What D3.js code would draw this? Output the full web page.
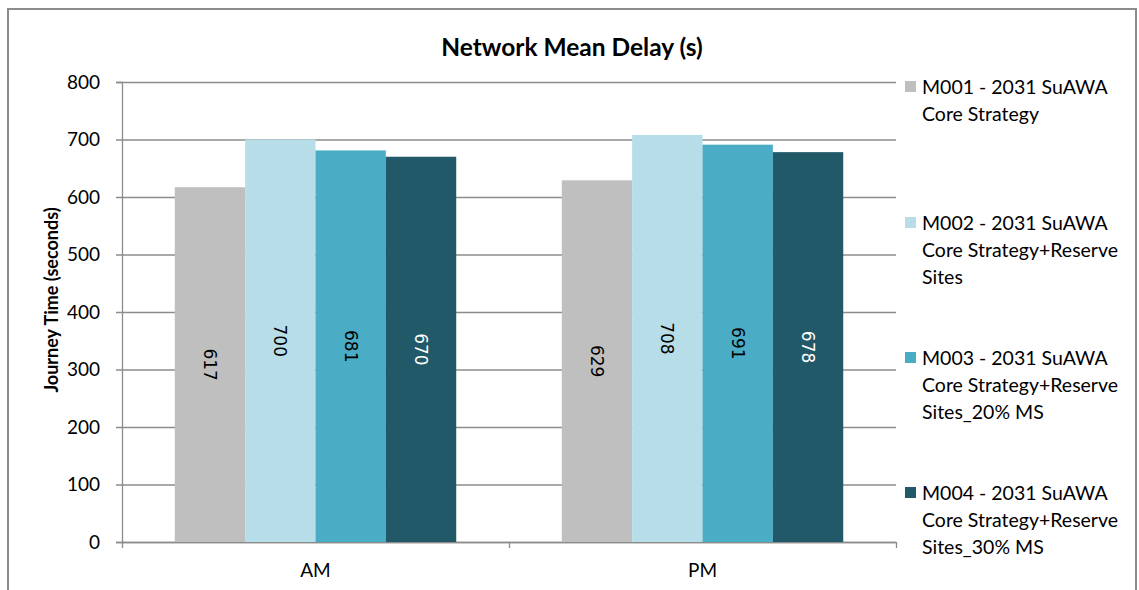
<!DOCTYPE html>
<html>
<head>
<meta charset="utf-8">
<script src="https://cdn.jsdelivr.net/npm/d3@7"></script>
<style>
  body { margin: 0; background: #fff; }
  text { font-family: Lato, "Open Sans", sans-serif; }
</style>
</head>
<body>
<div id="chart"></div>
<script>
/* data */
var periods = ["AM", "PM"];
var seriesNames = [
  ["M001 - 2031 SuAWA", "Core Strategy"],
  ["M002 - 2031 SuAWA", "Core Strategy+Reserve", "Sites"],
  ["M003 - 2031 SuAWA", "Core Strategy+Reserve", "Sites_20% MS"],
  ["M004 - 2031 SuAWA", "Core Strategy+Reserve", "Sites_30% MS"]
];
var m001 = [617, 629];
var m002 = [700, 708];
var m003 = [681, 691];
var m004 = [670, 678];
var yTicks = [0, 100, 200, 300, 400, 500, 600, 700, 800];

var colors = ["#bfbfbf", "#b7dee8", "#4bacc6", "#215968"];
var labelColors = ["#000", "#000", "#000", "#fff"];
var allSeries = [m001, m002, m003, m004];

var W = 1139, H = 590;
var margin = {top: 82, right: 243, bottom: 48, left: 122},
    width = W - margin.left - margin.right,
    height = H - margin.top - margin.bottom;

var svg = d3.select("#chart").append("svg")
    .attr("width", W)
    .attr("height", H);

// outer frame of the chart
svg.append("rect")
   .attr("x", 8).attr("y", 9)
   .attr("width", 1128).attr("height", 600)
   .style("fill", "none")
   .style("stroke", "#8c8c8c")
   .style("stroke-width", 2);

svg.append("text")
   .attr("x", 572).attr("y", 56)
   .attr("text-anchor", "middle")
   .style("font-weight", "bold")
   .style("font-size", "24.5px")
   .text("Network Mean Delay (s)");

var g = svg.append("g")
    .attr("transform", "translate(" + margin.left + "," + margin.top + ")");

var x0 = d3.scaleBand().domain(periods).range([0, width]);
// Excel gap width 150%: side gap = 0.75 bar width
var x1 = d3.scaleBand().domain(d3.range(4))
    .range([x0.bandwidth() * 0.75 / 5.5, x0.bandwidth() * 4.75 / 5.5]);

var y = d3.scaleLinear().domain([0, 800]).range([height, 0]);

// gridlines
g.selectAll(".grid")
 .data(yTicks)
 .enter()
 .append("line")
 .attr("class", "grid")
 .attr("x1", -6)
 .attr("x2", width)
 .attr("y1", function(d) { return y(d) + 0.5; })
 .attr("y2", function(d) { return y(d) + 0.5; })
 .style("stroke", "#8c8c8c")
 .style("stroke-width", 1.3);

// y axis
var yAxis = d3.axisLeft(y).tickValues(yTicks).tickSize(6).tickPadding(16);
var yg = g.append("g").call(yAxis);
yg.select(".domain").style("stroke", "#8c8c8c").style("stroke-width", 1.3);
yg.selectAll(".tick line").remove();
yg.selectAll("text")
  .style("font-size", "19px")
  .style("font-family", "Lato, sans-serif")
  .style("fill", "#000");

svg.append("text")
   .attr("transform", "translate(52,300) rotate(-90)")
   .attr("text-anchor", "middle")
   .attr("dy", "0.35em")
   .style("font-weight", "bold")
   .style("font-size", "18px")
   .text("Journey Time (seconds)");

// x axis
var xg = g.append("g")
    .attr("transform", "translate(0," + height + ")")
    .call(d3.axisBottom(x0).tickSize(0).tickPadding(22));
xg.select(".domain").style("stroke", "#8c8c8c").style("stroke-width", 1.3);
xg.selectAll("text")
  .style("font-size", "19px")
  .style("font-family", "Lato, sans-serif")
  .style("fill", "#000");
g.selectAll(".xtick")
 .data([0, width / 2, width])
 .enter()
 .append("line")
 .attr("x1", function(d) { return d + 0.5; })
 .attr("x2", function(d) { return d + 0.5; })
 .attr("y1", height)
 .attr("y2", height + 6)
 .style("stroke", "#8c8c8c")
 .style("stroke-width", 1.3);

// bars
var groups = g.selectAll(".period")
    .data(periods)
    .enter()
    .append("g")
    .attr("transform", function(d) { return "translate(" + x0(d) + ",0)"; });

groups.each(function(p, pi) {
  var grp = d3.select(this);
  allSeries.forEach(function(s, si) {
    grp.append("rect")
       .attr("x", x1(si))
       .attr("y", y(s[pi]))
       .attr("width", x1.bandwidth())
       .attr("height", height - y(s[pi]))
       .style("fill", colors[si]);
    var cx = x1(si) + x1.bandwidth() / 2;
    var cy = (y(s[pi]) + height) / 2;
    grp.append("text")
       .attr("transform", "translate(" + cx + "," + cy + ") rotate(90)")
       .attr("text-anchor", "middle")
       .attr("dy", "0.35em")
       .style("font-family", "'DejaVu Sans', sans-serif")
       .style("font-size", "17px")
       .style("fill", labelColors[si])
       .text(s[pi]);
  });
});

// legend
var legTop = [87, 223, 358, 493];
var leg = svg.selectAll(".leg")
    .data(seriesNames)
    .enter()
    .append("g")
    .attr("transform", function(d, i) { return "translate(905," + legTop[i] + ")"; });
leg.append("rect")
   .attr("x", 0).attr("y", -6)
   .attr("width", 11).attr("height", 11)
   .style("fill", function(d, i) { return colors[i]; });
leg.each(function(lines) {
  var t = d3.select(this).append("text")
      .attr("x", 17)
      .attr("y", 0)
      .style("font-size", "19.5px");
  lines.forEach(function(l, k) {
    t.append("tspan").attr("x", 17).attr("y", k * 27).attr("dy", "0.35em").text(l);
  });
});
</script>
</body>
</html>
